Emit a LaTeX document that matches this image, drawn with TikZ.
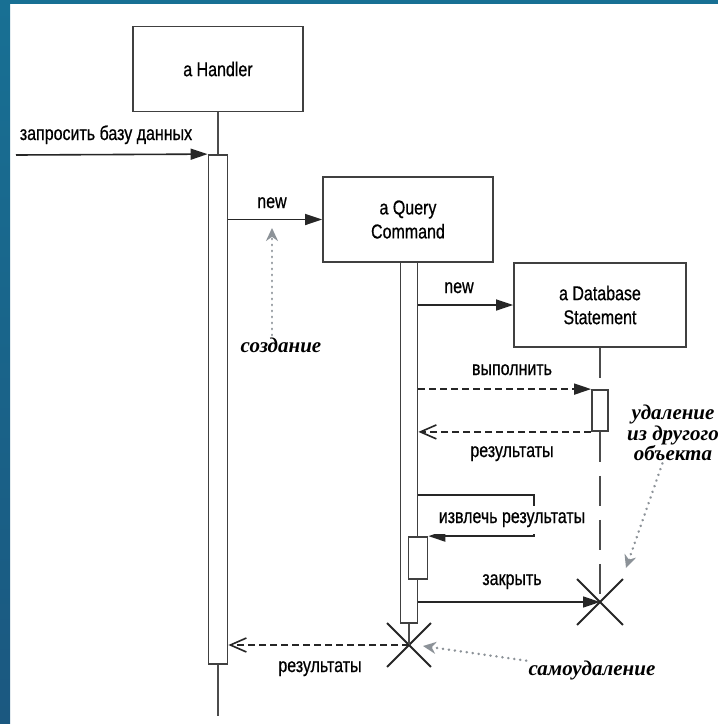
\documentclass[tikz,border=0pt]{standalone}
\usepackage{fontspec}
\setmainfont{Liberation Sans}[FakeStretch=0.8, FakeBold=0.6]
\newfontfamily\notefont{Liberation Serif}
\usepackage{tikz}
\usetikzlibrary{arrows.meta,shapes.misc}

\definecolor{frametop}{RGB}{24,112,148}
\definecolor{framebot}{RGB}{27,88,128}
\definecolor{hintgray}{RGB}{140,146,152}

\begin{document}
\begin{tikzpicture}[x=0.5pt,y=-0.5pt,
  every node/.style={font=\fontsize{10}{12}\selectfont},
  obj/.style={draw=black!75, line width=0.9pt, fill=white, align=center, inner sep=0pt, minimum width=85pt, minimum height=42.5pt},
  bar/.style={draw=black!75, line width=0.9pt, fill=white, inner sep=0pt},
  life/.style={draw=black!70, line width=0.9pt},
  msg/.style={draw=black!85, line width=0.8pt, -{Triangle[length=8.5pt,width=5.5pt]}},
  ret/.style={draw=black!85, line width=0.8pt, dash pattern=on 3.5pt off 2pt, -{Straight Barb[length=8pt,width=7pt]}},
  xmark/.style={cross out, draw=black!85, line width=0.9pt, inner sep=0pt},
  note/.style={font=\notefont\bfseries\itshape\fontsize{10.5}{10.3}\selectfont, align=center, inner sep=1pt},
  hint/.style={draw=hintgray, line width=1.3pt, line cap=round, dash pattern=on 0.1pt off 2.9pt, -{Stealth[length=6.5pt,width=6pt]}}]
\useasboundingbox (0,0) rectangle (718,724);
\fill[white] (0,0) rectangle (718,724);
\shade[top color=frametop, bottom color=framebot] (0,0) rectangle (10,724);
\fill[frametop] (0,0) rectangle (718,4);

\node[obj] (hbox) at (218,69) {a Handler};
\node[obj] (qbox) at (408,219.5) {a Query\\Command};
\node[obj, minimum width=86pt, minimum height=42pt] (dbox) at (600,305) {a Database\\Statement};

\node[bar, minimum width=9.5pt, minimum height=254.5pt] (hbar) at (218,409.5) {};
\node[bar, minimum width=8.5pt, minimum height=180.5pt] (qbar) at (409,442.5) {};
\node[bar, minimum width=9.5pt, minimum height=21pt] (qsub) at (418,558) {};
\node[bar, minimum width=8pt, minimum height=20.5pt] (dbar) at (600,410.5) {};

\node[xmark, minimum size=21pt] (qx) at (409,645) {};
\node[xmark, minimum size=22pt] (dx) at (600,602) {};
\coordinate (hend) at (218,716);
\coordinate (start) at (16,155);
\coordinate (sc) at (534,495);

\draw[life] (hbox.south) -- (hbar.north);
\draw[life] (hbar.south) -- (hend);
\draw[life] (qbar.south) -- (qx.center);
\draw[life, dash pattern=on 15pt off 7pt] (dbox.south) -- (dbar.north);
\draw[life, dash pattern=on 15pt off 7pt] (dbar.south) -- (dx.center);

\draw[msg] (start) -- (hbar.north west);
\node[anchor=base] (l1) at (106,140) {запросить базу данных};
\draw[msg] (hbar.east |- qbox.west) -- (qbox.west);
\node[anchor=base] (l2) at (272,208) {new};
\draw[msg] (qbar.east |- dbox.west) -- (dbox.west);
\node[anchor=base] (l3) at (459,293) {new};
\draw[msg, dash pattern=on 3.5pt off 2pt] (qbar.east |- dbar.north) -- (dbar.north west);
\node[anchor=base] (l4) at (512,375) {выполнить};
\draw[ret] (dbar.south west) -- (qbar.east |- dbar.south);
\node[anchor=base] (l5) at (512,457) {результаты};
\draw[msg] (qbar.east |- sc) -- (sc) -- (sc |- qsub.north) -- (qsub.north east);
\node[anchor=base, fill=white] (l6) at (512,523) {извлечь результаты};
\draw[msg] (qbar.east |- dx) -- (dx.center);
\node[anchor=base] (l7) at (512,585) {закрыть};
\draw[ret] (qx.center) -- (hbar.east |- qx);
\node[anchor=base] (l8) at (320,672) {результаты};

\node[note, anchor=base] (n1) at (281,352) {создание};
\coordinate (t1) at (272,228);
\draw[hint] (n1.north -| t1) -- (t1);
\node[note] (n2) at (673,433) {удаление\\из другого\\объекта};
\coordinate (t2) at (626,568);
\draw[hint] (n2) -- (t2);
\node[note, anchor=base] (n3) at (592,675) {самоудаление};
\coordinate (t3) at (423,646);
\draw[hint] (n3) -- (t3);
\end{tikzpicture}
\end{document}
